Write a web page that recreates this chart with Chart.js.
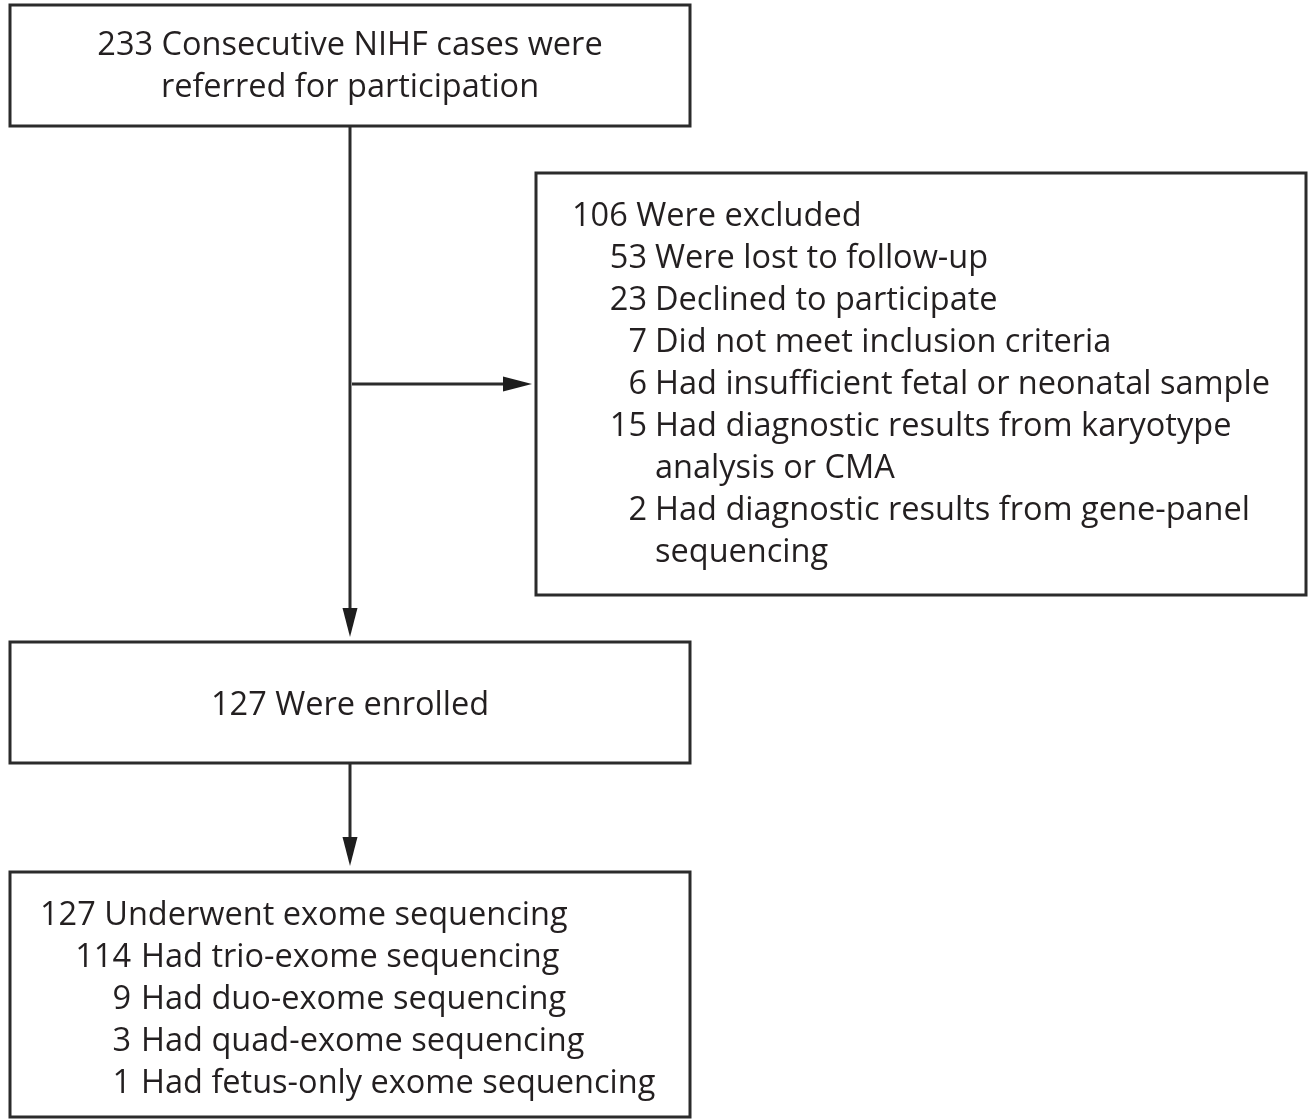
<!DOCTYPE html>
<html>
<head>
<meta charset="utf-8">
<script src="https://cdn.jsdelivr.net/npm/chart.js@4"></script>
<style>
  html, body { margin: 0; padding: 0; background: #ffffff; }
  #wrap { width: 1312px; height: 1120px; position: relative; }
</style>
</head>
<body>
<div id="wrap"><canvas id="c" width="1312" height="1120"></canvas></div>
<script>
// ---- Data ----
const referredCount = [233];
const referredLabel = ["Consecutive NIHF cases were", "referred for participation"];

const excludedCount = [106];
const excludedLabel = ["Were excluded"];
const excludedReasonCounts = [53, 23, 7, 6, 15, 2];
const excludedReasons = [
  "Were lost to follow-up",
  "Declined to participate",
  "Did not meet inclusion criteria",
  "Had insufficient fetal or neonatal sample",
  "Had diagnostic results from karyotype\nanalysis or CMA",
  "Had diagnostic results from gene-panel\nsequencing"
];

const enrolledCount = [127];
const enrolledLabel = ["Were enrolled"];

const sequencedCount = [127];
const sequencedLabel = ["Underwent exome sequencing"];
const sequencingCounts = [114, 9, 3, 1];
const sequencingTypes = [
  "Had trio-exome sequencing",
  "Had duo-exome sequencing",
  "Had quad-exome sequencing",
  "Had fetus-only exome sequencing"
];

// ---- Layout (diagram units on the chart's linear scales) ----
const boxes = {
  referred: { x0: 10, y0: 5, x1: 690, y1: 126 },
  excluded: { x0: 536, y0: 173, x1: 1306, y1: 595 },
  enrolled: { x0: 10, y0: 642, x1: 690, y1: 763 },
  sequenced: { x0: 10, y0: 872, x1: 690, y1: 1117 }
};
const arrows = [
  { from: [350, 126], to: [350, 637], head: true },
  { from: [352, 384], to: [532, 384], head: true },
  { from: [350, 763], to: [350, 866], head: true }
];
const LINE = 42;
const INK = '#231f20';
const STROKE = '#2b2b2b';
const FONT_FAMILY = '"Open Sans", "DejaVu Sans", sans-serif';

const flowPlugin = {
  id: 'flow',
  afterDraw(chart) {
    const ctx = chart.ctx;
    const xs = chart.scales.x, ys = chart.scales.y;
    const X = v => xs.getPixelForValue(v);
    const Y = v => ys.getPixelForValue(v);

    // font size fitted to the reference width of the widest reason line
    ctx.save();
    ctx.font = '100px ' + FONT_FAMILY;
    const w100 = ctx.measureText(excludedReasons[3]).width;
    const fs = Math.min(34, Math.max(26, 100 * 615 / w100));
    const font = fs.toFixed(2) + 'px ' + FONT_FAMILY;
    ctx.restore();

    ctx.save();
    // boxes
    ctx.strokeStyle = STROKE;
    ctx.lineWidth = 3;
    Object.values(boxes).forEach(b => {
      ctx.strokeRect(X(b.x0), Y(b.y0), X(b.x1) - X(b.x0), Y(b.y1) - Y(b.y0));
    });
    // arrows
    arrows.forEach(a => {
      const x0 = X(a.from[0]), y0 = Y(a.from[1]);
      const x1 = X(a.to[0]), y1 = Y(a.to[1]);
      const ang = Math.atan2(y1 - y0, x1 - x0);
      const hl = 29, hw = 7.5;
      const bx = x1 - hl * Math.cos(ang), by = y1 - hl * Math.sin(ang);
      ctx.beginPath();
      ctx.moveTo(x0, y0);
      ctx.lineTo(bx, by);
      ctx.lineWidth = 3;
      ctx.stroke();
      ctx.beginPath();
      ctx.moveTo(x1, y1);
      ctx.lineTo(bx + hw * Math.sin(ang), by - hw * Math.cos(ang));
      ctx.lineTo(bx - hw * Math.sin(ang), by + hw * Math.cos(ang));
      ctx.closePath();
      ctx.fillStyle = '#1e1e1e';
      ctx.fill();
    });

    // text
    ctx.fillStyle = INK;
    ctx.font = font;
    ctx.textBaseline = 'alphabetic';

    // referred box (centered)
    ctx.textAlign = 'center';
    const cx = X((boxes.referred.x0 + boxes.referred.x1) / 2);
    ctx.fillText(referredCount[0] + ' ' + referredLabel[0], cx, Y(55));
    ctx.fillText(referredLabel[1], cx, Y(55 + LINE));

    // enrolled box (centered)
    ctx.fillText(enrolledCount[0] + ' ' + enrolledLabel[0], cx, Y(715));

    // excluded box
    ctx.textAlign = 'left';
    let y = 226;
    ctx.fillText(excludedCount[0] + ' ' + excludedLabel[0], X(572), Y(y));
    excludedReasons.forEach((r, i) => {
      y += LINE;
      ctx.textAlign = 'right';
      ctx.fillText(String(excludedReasonCounts[i]), X(647), Y(y));
      ctx.textAlign = 'left';
      r.split('\n').forEach((part, k) => {
        if (k > 0) y += LINE;
        ctx.fillText(part, X(655), Y(y));
      });
    });

    // sequenced box
    y = 925;
    ctx.textAlign = 'left';
    ctx.fillText(sequencedCount[0] + ' ' + sequencedLabel[0], X(40), Y(y));
    sequencingTypes.forEach((t, i) => {
      y += LINE;
      ctx.textAlign = 'right';
      ctx.fillText(String(sequencingCounts[i]), X(131), Y(y));
      ctx.textAlign = 'left';
      ctx.fillText(t, X(141), Y(y));
    });
    ctx.restore();
  }
};

new Chart(document.getElementById('c'), {
  type: 'scatter',
  data: { datasets: [{ data: [], showLine: false, pointRadius: 0 }] },
  options: {
    responsive: false,
    animation: false,
    events: [],
    layout: { padding: 0 },
    plugins: { legend: { display: false }, tooltip: { enabled: false }, title: { display: false } },
    scales: {
      x: { type: 'linear', min: 0, max: 1312, display: false },
      y: { type: 'linear', min: 0, max: 1120, reverse: true, display: false }
    }
  },
  plugins: [flowPlugin]
});
</script>
</body>
</html>
